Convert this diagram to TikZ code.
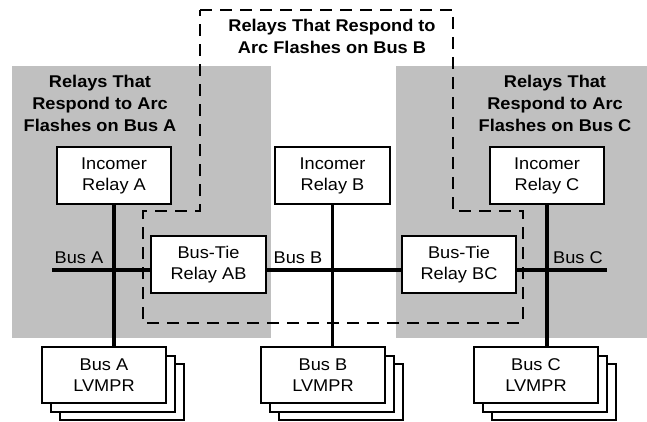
\documentclass[tikz,border=0pt]{standalone}
\usepackage{fontspec}
\setmainfont{Liberation Sans}[FakeStretch=1.07]
\begin{document}
\begin{tikzpicture}[x=1pt,y=-1pt,
  zone/.style={fill=zonegray,draw=none},
  relaybox/.style={draw=black,line width=1.8pt,fill=white,minimum width=114pt,minimum height=57pt,
    inner sep=0pt,align=center,font=\fontsize{17}{21}\selectfont},
  lvbox/.style={draw=black,line width=1.8pt,fill=white,minimum width=124pt,minimum height=56pt,
    inner sep=0pt,align=center,font=\fontsize{17}{21}\selectfont},
  ghost/.style={draw=black,line width=1.8pt,fill=white,minimum width=124pt,minimum height=56pt,inner sep=0pt},
  busline/.style={line width=3.2pt},
  zonelabel/.style={align=center,font=\bfseries\fontsize{17}{22}\selectfont,anchor=base,inner sep=0pt},
  buslabel/.style={font=\fontsize{17}{21}\selectfont,anchor=base,inner sep=0pt},
  reach/.style={line width=1.8pt,dash pattern=on 12pt off 8pt}]
\definecolor{zonegray}{RGB}{192,192,192}
\useasboundingbox (0,0) rectangle (647,422);

% shaded protection zones for buses A and C
\fill[zone] (12,66) rectangle (271,338);
\fill[zone] (396,66) rectangle (647,338);

% dashed protection zone for bus B
\draw[reach] (200,10) -- (453,10) -- (453,211) -- (523,211) -- (523,323)
  -- (143,323) -- (143,211) -- (200,211) -- cycle;

% zone titles (anchored on the baseline of the last line)
\node[zonelabel] (tA) at (100,132) {Relays That\\Respond to Arc\\Flashes on Bus A};
\node[zonelabel] (tB) at (332,54) {Relays That Respond to\\Arc Flashes on Bus B};
\node[zonelabel] (tC) at (555,132) {Relays That\\Respond to Arc\\Flashes on Bus C};

% stacked LVMPR relays
\foreach \cx/\nm in {104/A,323/B,536/C}{
  \node[ghost] (lv\nm3) at (\cx+18,392) {};
  \node[ghost] (lv\nm2) at (\cx+9,384) {};
}
\node[lvbox] (lvA) at (104,375) {Bus A\\LVMPR};
\node[lvbox] (lvB) at (323,375) {Bus B\\LVMPR};
\node[lvbox] (lvC) at (536,375) {Bus C\\LVMPR};

% incomer and bus-tie relays
\node[relaybox] (incA) at (114,175.5) {Incomer\\Relay A};
\node[relaybox,minimum width=115pt] (incB) at (332.5,175.5) {Incomer\\Relay B};
\node[relaybox] (incC) at (547,175.5) {Incomer\\Relay C};
\node[relaybox,minimum width=115pt] (tieAB) at (208.5,264.5) {Bus-Tie\\Relay AB};
\node[relaybox] (tieBC) at (459,264.5) {Bus-Tie\\Relay BC};

% feeders from incomers to LVMPRs
\draw[busline] (incA.south) -- (incA.south |- lvA.north);
\draw[busline] (incB.south) -- (incB.south |- lvB.north);
\draw[busline] (incC.south) -- (incC.south |- lvC.north);

% bus bars
\coordinate (aEnd) at (52,270);
\coordinate (cEnd) at (607,270);
\draw[busline] (aEnd) -- (aEnd -| tieAB.west);
\draw[busline] (aEnd -| tieAB.east) -- (aEnd -| tieBC.west);
\draw[busline] (aEnd -| tieBC.east) -- (cEnd);

% bus names
\node[buslabel] (nA) at (79,263) {Bus A};
\node[buslabel] (nB) at (298,263) {Bus B};
\node[buslabel] (nC) at (578,263) {Bus C};
\end{tikzpicture}
\end{document}
